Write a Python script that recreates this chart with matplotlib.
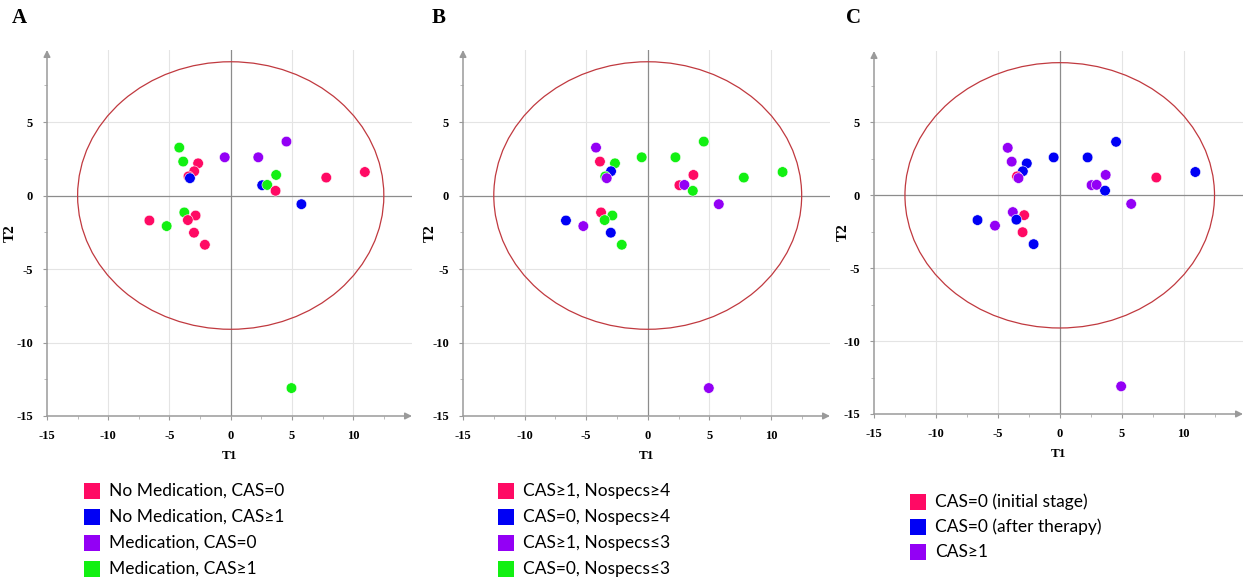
import matplotlib
matplotlib.use("Agg")
import matplotlib.pyplot as plt
from matplotlib.patches import Ellipse, Rectangle
from matplotlib.ticker import MultipleLocator

# scores of the 24 samples (same in all three panels)
t1 = [-4.2, -3.88, -2.66, -2.98, -3.45, -3.33, -0.49, 2.25, 4.55, 3.71, 2.57, 2.98,
      3.66, 7.8, 10.95, 5.77, -3.79, -2.87, -3.5, -6.64, -5.23, -3.0, -2.11, 4.96]
t2 = [3.26, 2.31, 2.19, 1.65, 1.30, 1.18, 2.6, 2.6, 3.67, 1.4, 0.70, 0.72,
      0.32, 1.22, 1.6, -0.59, -1.15, -1.36, -1.67, -1.70, -2.08, -2.53, -3.35, -13.1]

# group of each sample per panel (index into the legend)
grp_a = [3, 3, 0, 0, 0, 1, 2, 2, 2, 3, 1, 3, 0, 0, 0, 1, 3, 0, 0, 0, 3, 0, 0, 3]
grp_b = [2, 0, 3, 1, 3, 2, 3, 3, 3, 0, 0, 2, 3, 3, 3, 2, 0, 3, 3, 1, 2, 1, 3, 2]
grp_c = [2, 2, 1, 1, 0, 2, 1, 1, 1, 2, 2, 2, 1, 0, 1, 2, 2, 0, 1, 1, 2, 0, 1, 2]

labels_a = ["No Medication, CAS=0", "No Medication, CAS\u22651",
            "Medication, CAS=0", "Medication, CAS\u22651"]
labels_b = ["CAS\u22651, Nospecs\u22654", "CAS=0, Nospecs\u22654",
            "CAS\u22651, Nospecs\u22643", "CAS=0, Nospecs\u22643"]
labels_c = ["CAS=0 (initial stage)", "CAS=0 (after therapy)", "CAS\u22651"]

colors = ["#ff0a64", "#0000f5", "#9300f5", "#12f012"]

xticks = [-15, -10, -5, 0, 5, 10]
yticks = [-15, -10, -5, 0, 5]

W, H = 1244, 584
fig = plt.figure(figsize=(W / 100, H / 100), dpi=100)
serif = "Liberation Serif"
sans = "Lato"


def px(x0, y0, x1, y1):
    # pixel box (from top-left) -> figure fraction rect
    return [x0 / W, 1 - y1 / H, (x1 - x0) / W, (y1 - y0) / H]


def panel(rect, grp, letter, lx, t2x):
    ax = fig.add_axes(rect)
    ax.set_xlim(-15, 14.8)
    ax.set_ylim(-15, 9.9)
    for s in ax.spines.values():
        s.set_visible(False)
    for v in [-10, -5, 5, 10]:
        ax.axvline(v, color="#e4e4e4", lw=0.8, zorder=0)
    for v in [-10, -5, 5]:
        ax.axhline(v, color="#e4e4e4", lw=0.8, zorder=0)
    ax.axvline(0, color="#8c8c8c", lw=0.9, zorder=1)
    ax.axhline(0, color="#8c8c8c", lw=0.9, zorder=1)
    # arrowed axes
    ax.annotate("", xy=(1, 0), xytext=(0, 0), xycoords="axes fraction",
                arrowprops=dict(arrowstyle="-|>", color="#9a9a9a", lw=1.1,
                                mutation_scale=10, shrinkA=0, shrinkB=0))
    ax.annotate("", xy=(0, 1), xytext=(0, 0), xycoords="axes fraction",
                arrowprops=dict(arrowstyle="-|>", color="#9a9a9a", lw=1.1,
                                mutation_scale=10, shrinkA=0, shrinkB=0))
    ax.add_patch(Ellipse((0, 0), 25.0, 18.2, fill=False, ec="#c0393f", lw=0.9, zorder=2))
    ax.scatter(t1, t2, c=[colors[g] for g in grp], s=58, ec="white", lw=0.4, zorder=3)
    ax.set_xticks(xticks)
    ax.set_xticklabels([str(v) for v in xticks])
    ax.set_yticks(yticks)
    ax.set_yticklabels([str(v) for v in yticks])
    ax.xaxis.set_minor_locator(MultipleLocator(2.5))
    ax.yaxis.set_minor_locator(MultipleLocator(2.5))
    ax.tick_params(which="major", length=3, color="#9a9a9a", pad=7)
    ax.tick_params(which="minor", length=2, color="#b0b0b0")
    for t in ax.get_xticklabels() + ax.get_yticklabels():
        t.set_fontfamily(serif)
        t.set_fontweight("bold")
        t.set_fontsize(9)
    ax.set_xlabel("T1", fontfamily=serif, fontweight="bold", fontsize=9.5, labelpad=6)
    ax.set_ylabel("T2", fontfamily=serif, fontweight="bold", fontsize=11)
    ax.yaxis.set_label_coords(t2x / (rect[2] * W), 0.5)
    fig.text(lx / W, 1 - 18 / H, letter, fontfamily=serif, fontweight="bold",
             fontsize=15, va="center", ha="left")
    return ax


def legend(x0, y0, labels, step=26):
    for i, lab in enumerate(labels):
        yc = y0 + i * step
        fig.add_artist(Rectangle((x0 / W, 1 - (yc + 8) / H), 16 / W, 16 / H,
                                 transform=fig.transFigure, fc=colors[i], ec="none"))
        fig.text((x0 + 25) / W, 1 - yc / H, lab, fontfamily=sans, fontsize=12.5,
                 va="center", ha="left")


panel(px(47, 50, 412, 416), grp_a, "A", 12, -30)
panel(px(463, 50, 830, 416), grp_b, "B", 432, -26)
panel(px(874, 51, 1243, 414), grp_c, "C", 846, -24)

legend(84, 491, labels_a)
legend(498, 491, labels_b)
legend(910, 502, labels_c, step=25)

fig.savefig("out.png", dpi=100)
